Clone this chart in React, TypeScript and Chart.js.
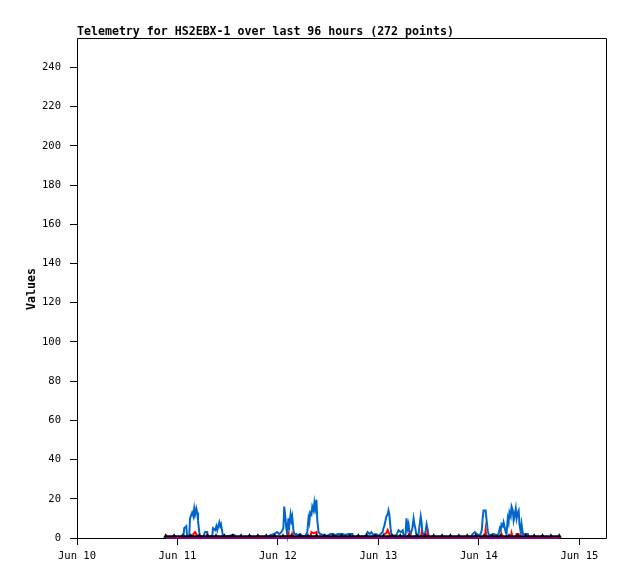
import React, { useEffect, useRef } from "react";
import { Chart, registerables } from "chart.js";

Chart.register(...registerables);

// x values are hours since Jun 10 00:00
const X_TICKS = [0, 24, 48, 72, 96, 120];
const X_LABELS = ["Jun 10", "Jun 11", "Jun 12", "Jun 13", "Jun 14", "Jun 15"];
const Y_TICKS = [0, 20, 40, 60, 80, 100, 120, 140, 160, 180, 200, 220, 240];
const X_MIN = 0;
const X_MAX = 126.6;
const Y_MIN = 0;
const Y_MAX = 255;

const TITLE = "Telemetry for HS2EBX-1 over last 96 hours (272 points)";
const Y_TITLE = "Values";

const BLUE_POINTS: [number, number][] = [
  [21.5, 0], [25.4, 0], [25.6, 5], [26.1, 6], [26.3, 1], [26.8, 1], [27.0, 10], [27.5, 13],
  [27.8, 11], [28.0, 15], [28.2, 12], [28.5, 15], [28.7, 13], [28.9, 9], [29.2, 3], [29.4, 1],
  [30.1, 0.5], [30.6, 3], [31.1, 3], [31.3, 0.5], [32.3, 1], [32.5, 5], [33.0, 4], [33.3, 6],
  [33.5, 4], [34.0, 8], [34.2, 6], [34.4, 7], [34.7, 3], [34.9, 1], [35.4, 0.5], [37.1, 1.5],
  [37.6, 1.5], [37.8, 0], [45.2, 0], [46.2, 1.5], [47.1, 2], [47.8, 3], [48.3, 2], [48.8, 3],
  [49.3, 5], [49.5, 16], [49.8, 10], [50.0, 5], [50.2, 2], [50.5, 10], [50.7, 6], [51.0, 12],
  [51.2, 9], [51.4, 11], [51.7, 4], [51.9, 2], [52.4, 2], [52.9, 1.5], [53.3, 2], [53.8, 1],
  [54.5, 1], [55.0, 3], [55.3, 10], [55.5, 8], [55.7, 13], [56.0, 12], [56.2, 16], [56.5, 14],
  [56.7, 18], [56.9, 15], [57.2, 19.5], [57.4, 9], [57.7, 3], [58.1, 2], [58.9, 1.5], [59.6, 1],
  [60.5, 2], [61.2, 2], [61.7, 1.5], [62.4, 2], [63.4, 2], [64.1, 1.5], [64.8, 2], [65.8, 2],
  [66.0, 0.5], [67.7, 0.5], [68.9, 1], [69.4, 3], [69.9, 2], [70.3, 3], [70.8, 1.5], [71.5, 2],
  [72.0, 1], [72.5, 2], [73.0, 3], [73.2, 5], [73.4, 6], [73.7, 9], [73.9, 11], [74.2, 12],
  [74.4, 14], [74.6, 12], [74.9, 5], [75.1, 2], [75.6, 1], [76.3, 1.5], [76.8, 4], [77.3, 3],
  [77.8, 4], [78.0, 1.5], [78.5, 2], [78.7, 10], [79.0, 5], [79.2, 7], [79.4, 3], [79.7, 2],
  [80.1, 5], [80.4, 10], [80.6, 7], [80.9, 4], [81.1, 1], [81.6, 2], [81.8, 6], [82.1, 11],
  [82.3, 8], [82.5, 3], [83.0, 1], [83.3, 4], [83.5, 7], [83.7, 5], [84.0, 1], [84.4, 0.5],
  [84.7, 0], [94.0, 0], [94.5, 2], [95.0, 3], [95.5, 2], [95.9, 1.5], [96.4, 2], [96.7, 4],
  [96.9, 10], [97.1, 14], [97.4, 14], [97.6, 14], [97.8, 10], [98.1, 4], [98.3, 2], [98.8, 1.5],
  [99.5, 2], [100.2, 1.5], [100.7, 2], [101.0, 5], [101.2, 4], [101.4, 7], [101.7, 6], [101.9, 8],
  [102.2, 5], [102.4, 3], [102.6, 2], [102.9, 10], [103.1, 8], [103.3, 13], [103.6, 11], [103.8, 16],
  [104.1, 14], [104.3, 9], [104.5, 11], [104.8, 15], [105.0, 10], [105.3, 13], [105.5, 14], [105.7, 7],
  [106.0, 3], [106.2, 7], [106.5, 2], [106.9, 2], [107.7, 2], [107.9, 0.5], [108.4, 0], [115.1, 0],
];

const RED_POINTS: [number, number][] = [
  [21.5, 0], [27.5, 0], [27.8, 2], [28.2, 3], [28.5, 2], [28.9, 0], [30.8, 0], [31.1, 1.5],
  [31.3, 0], [50.2, 0], [50.5, 2], [50.8, 0], [51.2, 0], [51.4, 2], [51.7, 0], [55.7, 0],
  [56.0, 3], [56.5, 2.5], [57.2, 3], [57.4, 0], [73.2, 0], [73.4, 2], [73.9, 2.5], [74.2, 4],
  [74.6, 2], [74.9, 0], [79.2, 0], [79.4, 2], [79.7, 0], [82.1, 0], [82.3, 2.5], [82.5, 0],
  [83.5, 0], [83.7, 2.5], [84.0, 0], [97.4, 0], [97.6, 4], [97.8, 0], [101.2, 0], [101.4, 2],
  [101.7, 0], [103.6, 0], [103.8, 2.5], [104.1, 0], [104.8, 0], [105.0, 2], [105.5, 2],
  [105.7, 0], [115.1, 0],
];

const BLACK_HOURS = [
  21.2, 23.2, 25.2, 27.2, 29.2, 31.2, 33.2, 35.2, 37.2, 39.2, 41.2, 43.2, 45.2, 47.2, 49.2, 51.2,
  53.2, 55.2, 57.2, 59.2, 61.2, 63.2, 65.2, 67.2, 69.2, 71.2, 73.2, 75.2, 77.2, 79.2, 81.2, 83.2,
  85.2, 87.2, 89.2, 91.2, 93.2, 95.2, 97.2, 99.2, 101.2, 103.2, 105.2, 107.2, 109.2, 111.2, 113.2, 115.2,
];
const BLACK_VALUES = [
  0.9, 0.9, 0.9, 0.9, 0.9, 0.9, 0.9, 0.9, 0.9, 0.9, 0.9, 0.9, 0.9, 0.9, 0.9, 0.9,
  0.9, 0.9, 0.9, 0.9, 0.9, 0.9, 0.9, 0.9, 0.9, 0.9, 0.9, 0.9, 0.9, 0.9, 0.9, 0.9,
  0.9, 0.9, 0.9, 0.9, 0.9, 0.9, 0.9, 0.9, 0.9, 0.9, 0.9, 0.9, 0.9, 0.9, 0.9, 0.9,
];

const PURPLE_POINTS: [number, number][] = [
  [21.3, 0], [115.2, 0],
];

const MONO = '"DejaVu Sans Mono", "Liberation Mono", monospace';

const decorPlugin = {
  id: "decor",
  beforeDatasetsDraw(chart: any) {
    const { ctx, chartArea } = chart;
    const { left, top, right, bottom } = chartArea;
    ctx.save();
    ctx.strokeStyle = "#000000";
    ctx.lineWidth = 1;
    ctx.beginPath();
    ctx.rect(left + 0.5, top + 0.5, right - left - 1, bottom - top);
    ctx.stroke();
    ctx.restore();
  },
  afterDraw(chart: any) {
    const { ctx, chartArea } = chart;
    ctx.save();
    ctx.fillStyle = "#000000";
    ctx.font = `bold 11.6px ${MONO}`;
    ctx.textAlign = "left";
    ctx.textBaseline = "alphabetic";
    ctx.fillText(TITLE, chartArea.left, 35);
    ctx.translate(32, 289);
    ctx.rotate(-Math.PI / 2);
    ctx.textAlign = "center";
    ctx.textBaseline = "middle";
    ctx.fillText(Y_TITLE, 0, 0);
    ctx.restore();
  },
};

export default function App() {
  const canvasRef = useRef<HTMLCanvasElement | null>(null);

  useEffect(() => {
    document.body.style.margin = "0";
    const canvas = canvasRef.current;
    if (!canvas) return;
    const toXY = (pts: [number, number][]) => pts.map(([x, y]) => ({ x, y }));
    const chart = new Chart(canvas, {
      type: "line",
      data: {
        datasets: [
          {
            label: "purple",
            data: toXY(PURPLE_POINTS),
            borderColor: "#800080",
            borderWidth: 2,
            pointRadius: 0,
            clip: false,
            order: 0,
          },
          {
            label: "black",
            data: BLACK_HOURS.map((h, i) => ({ x: h, y: BLACK_VALUES[i] })),
            borderColor: "#000000",
            backgroundColor: "#000000",
            borderWidth: 2,
            pointStyle: "triangle",
            pointRadius: 3,
            pointBorderWidth: 0,
            clip: false,
            order: 1,
          },
          {
            label: "red",
            data: toXY(RED_POINTS),
            borderColor: "#ff0000",
            borderWidth: 2,
            pointRadius: 0,
            clip: false,
            order: 2,
          },
          {
            label: "blue",
            data: toXY(BLUE_POINTS),
            borderColor: "#0066cc",
            borderWidth: 2,
            pointRadius: 0,
            clip: false,
            order: 3,
          },
        ],
      },
      options: {
        animation: false,
        responsive: false,
        devicePixelRatio: 1,
        layout: { padding: { left: 0, top: 38, right: 11, bottom: 0 } },
        plugins: {
          legend: { display: false },
          title: { display: false },
          tooltip: { enabled: false },
        },
        elements: { line: { tension: 0 } },
        scales: {
          x: {
            type: "linear",
            min: X_MIN,
            max: X_MAX,
            border: { display: false },
            grid: {
              display: true,
              drawOnChartArea: false,
              drawTicks: true,
              tickLength: 7,
              color: "#000000",
            },
            afterBuildTicks: (scale: any) => {
              scale.ticks = X_TICKS.map((v) => ({ value: v }));
            },
            afterFit: (scale: any) => {
              scale.height = 41;
            },
            ticks: {
              autoSkip: false,
              maxRotation: 0,
              padding: 5,
              color: "#000000",
              font: { family: MONO, size: 10.5 },
              callback: (v: any) => {
                const i = X_TICKS.indexOf(Number(v));
                return i >= 0 ? X_LABELS[i] : "";
              },
            },
          },
          y: {
            type: "linear",
            min: Y_MIN,
            max: Y_MAX,
            border: { display: false },
            grid: {
              display: true,
              drawOnChartArea: false,
              drawTicks: true,
              tickLength: 7,
              color: "#000000",
            },
            afterBuildTicks: (scale: any) => {
              scale.ticks = Y_TICKS.map((v) => ({ value: v }));
            },
            afterFit: (scale: any) => {
              scale.width = 77;
            },
            ticks: {
              autoSkip: false,
              padding: 9,
              color: "#000000",
              font: { family: MONO, size: 10.5 },
              callback: (v: any) => String(v),
            },
          },
        },
      },
      plugins: [decorPlugin],
    });
    return () => chart.destroy();
  }, []);

  return (
    <div style={{ width: 618, height: 579, background: "#ffffff" }}>
      <canvas ref={canvasRef} width={618} height={579} style={{ display: "block" }} />
    </div>
  );
}
